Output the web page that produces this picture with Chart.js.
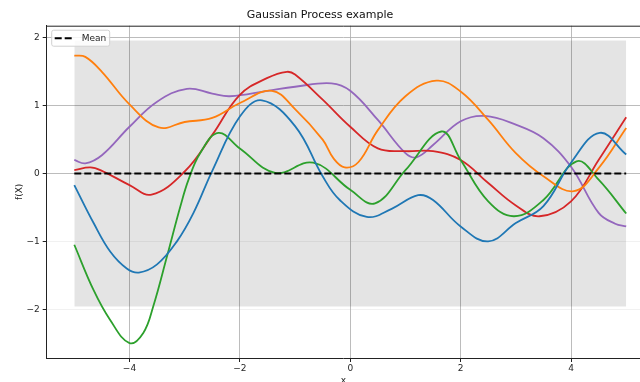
<!DOCTYPE html>
<html>
<head>
<meta charset="utf-8">
<script src="https://cdn.jsdelivr.net/npm/chart.js@4.4.1/dist/chart.umd.min.js"></script>
<style>
  html, body { margin: 0; padding: 0; background: #fff; }
  #gp { display: block; }
</style>
</head>
<body>
<canvas id="gp" width="640" height="382"></canvas>
<script>
// five draws from the prior, each sampled where its shape turns
const blueX   = [-5, -4.65, -4.35, -4.05, -3.83, -3.5, -3.14, -2.84, -2.5, -2, -1.6, -1, -0.5, -0.19, 0.3, 0.75, 1.23, 1.5, 2, 2.5, 3, 3.5, 4, 4.52, 5];
const blueY   = [-0.17, -0.73, -1.15, -1.40, -1.46, -1.34, -1.00, -0.58, 0.04, 0.84, 1.08, 0.70, -0.04, -0.39, -0.64, -0.52, -0.32, -0.39, -0.78, -1.00, -0.73, -0.48, 0.16, 0.60, 0.28];

const orangeX = [-5, -4.8, -4.5, -4, -3.47, -3, -2.5, -2, -1.42, -1, -0.5, -0.3, -0.1, 0.15, 0.5, 1, 1.56, 2, 2.5, 3, 3.5, 4.05, 4.5, 5];
const orangeY = [1.74, 1.72, 1.50, 1.02, 0.68, 0.76, 0.82, 1.04, 1.22, 0.95, 0.50, 0.22, 0.09, 0.17, 0.64, 1.14, 1.37, 1.21, 0.79, 0.30, -0.04, -0.26, 0.08, 0.67];

const greenX  = [-5, -4.65, -4.35, -4, -3.75, -3.57, -3.32, -3.08, -2.93, -2.72, -2.39, -2, -1.36, -0.67, 0, 0.45, 1, 1.65, 2, 2.5, 2.97, 3.5, 4.1, 4.5, 5];
const greenY  = [-1.05, -1.72, -2.16, -2.50, -2.35, -1.96, -1.22, -0.49, -0.09, 0.30, 0.60, 0.37, 0.01, 0.16, -0.24, -0.44, 0.05, 0.62, 0.20, -0.41, -0.63, -0.39, 0.18, -0.09, -0.59];

const redX    = [-5, -4.71, -4.5, -4, -3.6, -3, -2.5, -2, -1.5, -1.15, -1, -0.5, 0, 0.5, 1, 1.5, 2, 2.5, 3, 3.43, 4, 4.5, 5];
const redY    = [0.05, 0.09, 0.04, -0.17, -0.31, 0.03, 0.57, 1.16, 1.41, 1.50, 1.46, 1.09, 0.69, 0.37, 0.33, 0.33, 0.20, -0.14, -0.47, -0.63, -0.41, 0.20, 0.83];

const purpleX = [-5, -4.8, -4.5, -4, -3.5, -2.96, -2.5, -2.18, -1.5, -1, -0.34, 0, 0.5, 1, 1.2, 1.5, 2, 2.44, 3, 3.5, 4, 4.5, 4.8, 5];
const purpleY = [0.20, 0.15, 0.27, 0.69, 1.06, 1.25, 1.18, 1.14, 1.22, 1.28, 1.33, 1.22, 0.79, 0.30, 0.24, 0.42, 0.77, 0.85, 0.72, 0.52, 0.10, -0.58, -0.74, -0.78];

// mean and 95% band
const meanX = [-5, 5];
const meanY = [0, 0];
const bandX = [-5, 5];
const bandUpper = [1.96, 1.96];
const bandLower = [-1.96, -1.96];

const xTicks = [-4, -2, 0, 2, 4];
const yTicks = [-2, -1, 0, 1, 2];

const FONT = '"DejaVu Sans", "Liberation Sans", sans-serif';
const TEXT = '#262626';
const GRID = 'rgba(176,176,176,0.85)';
const GRID_FAINT = 'rgba(176,176,176,0.18)';

function pts(x, y) {
    return x.map((v, i) => ({ x: v, y: y[i] }));
}

function fmt(v) {
    return v < 0 ? '\u2212' + Math.abs(v) : String(v);
}

function curve(x, y, color) {
    return {
        data: pts(x, y),
        borderColor: color,
        borderWidth: 1.8,
        pointRadius: 0,
        tension: 0.4,
        fill: false,
        order: 1
    };
}

// matplotlib-ish frame: top spine + boxed legend in the upper-left corner
const framePlugin = {
    id: 'frame',
    afterDraw(chart) {
        const { ctx, chartArea } = chart;
        ctx.save();
        ctx.strokeStyle = '#222';
        ctx.lineWidth = 1;
        ctx.beginPath();
        ctx.moveTo(chartArea.left, chartArea.top + 0.5);
        ctx.lineTo(chartArea.right, chartArea.top + 0.5);
        ctx.stroke();

        const mean = chart.data.datasets.find(d => d.label === 'Mean');
        const bx = chartArea.left + 5, by = chartArea.top + 4.5, bw = 58, bh = 16;
        ctx.fillStyle = 'rgba(255,255,255,0.85)';
        ctx.strokeStyle = '#d0d0d0';
        ctx.beginPath();
        ctx.roundRect(bx, by, bw, bh, 2);
        ctx.fill();
        ctx.stroke();

        const cy = by + bh / 2;
        ctx.strokeStyle = mean.borderColor;
        ctx.lineWidth = mean.borderWidth;
        ctx.setLineDash(mean.borderDash);
        ctx.beginPath();
        ctx.moveTo(bx + 3, cy);
        ctx.lineTo(bx + 21, cy);
        ctx.stroke();
        ctx.setLineDash([]);

        ctx.fillStyle = TEXT;
        ctx.font = '9px ' + FONT;
        ctx.textAlign = 'left';
        ctx.textBaseline = 'middle';
        ctx.fillText(mean.label, bx + 30, cy + 0.5);
        ctx.restore();
    }
};

new Chart(document.getElementById('gp'), {
    type: 'line',
    data: {
        datasets: [
            {
                label: 'Mean',
                data: pts(meanX, meanY),
                borderColor: '#000',
                borderWidth: 2,
                borderDash: [7, 3],
                pointRadius: 0,
                fill: false,
                order: 0
            },
            curve(blueX, blueY, '#1f77b4'),
            curve(orangeX, orangeY, '#ff7f0e'),
            curve(greenX, greenY, '#2ca02c'),
            curve(redX, redY, '#d62728'),
            curve(purpleX, purpleY, '#9467bd'),
            {
                label: 'upper',
                data: pts(bandX, bandUpper),
                borderWidth: 0,
                pointRadius: 0,
                backgroundColor: 'rgba(0,0,0,0.105)',
                fill: '+1',
                order: 5
            },
            {
                label: 'lower',
                data: pts(bandX, bandLower),
                borderWidth: 0,
                pointRadius: 0,
                fill: false,
                order: 5
            }
        ]
    },
    options: {
        responsive: false,
        devicePixelRatio: 1,
        animation: false,
        layout: { padding: 0 },
        plugins: {
            legend: { display: false },
            tooltip: { enabled: false },
            title: {
                display: true,
                text: 'Gaussian Process example',
                color: '#111',
                font: { family: FONT, size: 11, weight: 'normal' },
                padding: { top: 9, bottom: 3.5 }
            }
        },
        scales: {
            x: {
                type: 'linear',
                min: -5.5,
                max: 5.25,
                afterBuildTicks: s => { s.ticks = xTicks.map(v => ({ value: v })); },
                afterFit: s => { s.height = 24; },
                grid: { color: GRID, lineWidth: 1, tickLength: 4, tickColor: '#222' },
                border: { color: '#222', width: 1 },
                ticks: { font: { family: FONT, size: 9 }, color: TEXT, padding: 1, maxRotation: 0, callback: fmt },
                title: { display: true, text: 'x', color: TEXT, font: { family: FONT, size: 9 }, padding: { top: 0, bottom: -4 } }
            },
            y: {
                type: 'linear',
                min: -2.72,
                max: 2.18,
                afterBuildTicks: s => { s.ticks = yTicks.map(v => ({ value: v })); },
                afterFit: s => { s.width = 46.7; },
                grid: {
                    // lower horizontal lines come out very light
                    color: c => (c.tick && c.tick.value < 0 ? GRID_FAINT : GRID),
                    lineWidth: 1,
                    tickLength: 4,
                    tickColor: '#222'
                },
                border: { color: '#222', width: 1 },
                ticks: { font: { family: FONT, size: 9 }, color: TEXT, padding: 3, callback: fmt },
                title: { display: true, text: 'f(X)', color: TEXT, font: { family: FONT, size: 9 }, padding: { top: 14, bottom: 0 } }
            }
        }
    },
    plugins: [framePlugin]
});
</script>
</body>
</html>
